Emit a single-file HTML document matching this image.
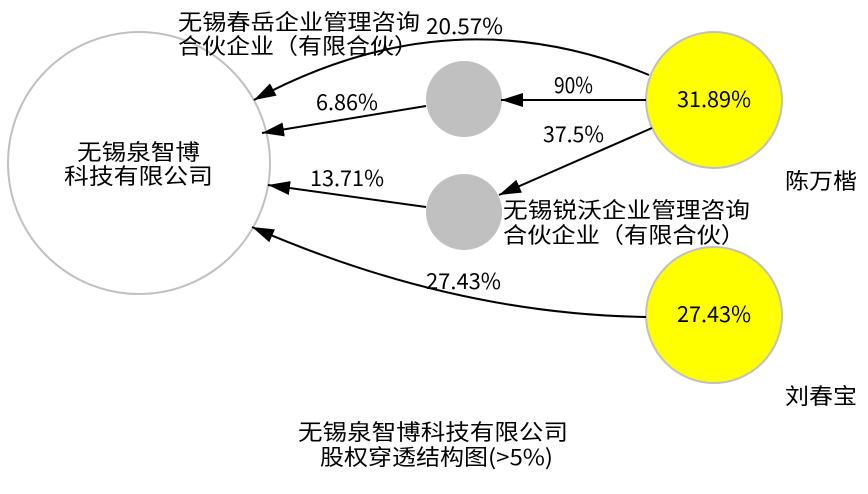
<!DOCTYPE html>
<html><head><meta charset="utf-8"><style>
html,body{margin:0;padding:0;background:#fff}
svg text{font-family:"WenQuanYi Zen Hei","Noto Sans CJK SC",sans-serif;font-size:22px;fill:#000}
</style></head><body>
<svg width="868" height="489" viewBox="0 0 868 489" xmlns="http://www.w3.org/2000/svg">
<defs><marker id="a" viewBox="0 0 10 10" refX="10" refY="5" markerWidth="22" markerHeight="14" preserveAspectRatio="none" markerUnits="userSpaceOnUse" orient="auto"><path d="M0,0L10,5L0,10z" fill="#000"/></marker></defs>
<circle cx="139" cy="163" r="131" fill="#fff" stroke="#c0c0c0" stroke-width="2"/>
<circle cx="464" cy="99" r="38" fill="#c0c0c0"/>
<circle cx="464" cy="212" r="38" fill="#c0c0c0"/>
<circle cx="714" cy="100" r="68" fill="#ffff00" stroke="#c0c0c0" stroke-width="2"/>
<circle cx="714" cy="315" r="68" fill="#ffff00" stroke="#c0c0c0" stroke-width="2"/>
<g stroke="#000" stroke-width="2" fill="none" marker-end="url(#a)">
<path d="M649,75 Q451,-7 254,100"/>
<path d="M426,106 L262,133"/>
<path d="M646,100 L501,100"/>
<path d="M652,128 L499,195"/>
<path d="M426,207 L268,185"/>
<path d="M646,317 Q451,314 252,227"/>
</g>
<g>
<text x="178" y="30" textLength="242" lengthAdjust="spacingAndGlyphs">无锡春岳企业管理咨询</text>
<text x="178" y="54" textLength="240" lengthAdjust="spacingAndGlyphs">合伙企业（有限合伙）</text>
<text x="426" y="34" textLength="77" lengthAdjust="spacingAndGlyphs">20.57%</text>
<text x="316" y="110" textLength="62" lengthAdjust="spacingAndGlyphs">6.86%</text>
<text x="554" y="93" textLength="39" lengthAdjust="spacingAndGlyphs">90%</text>
<text x="543" y="142" textLength="61" lengthAdjust="spacingAndGlyphs">37.5%</text>
<text x="310" y="186" textLength="74" lengthAdjust="spacingAndGlyphs">13.71%</text>
<text x="426" y="289" textLength="75" lengthAdjust="spacingAndGlyphs">27.43%</text>
<text x="77" y="160" textLength="123" lengthAdjust="spacingAndGlyphs">无锡泉智博</text>
<text x="64" y="184" textLength="149" lengthAdjust="spacingAndGlyphs">科技有限公司</text>
<text x="503" y="218" textLength="247" lengthAdjust="spacingAndGlyphs">无锡锐沃企业管理咨询</text>
<text x="503" y="243" textLength="242" lengthAdjust="spacingAndGlyphs">合伙企业（有限合伙）</text>
<text x="677" y="107" textLength="74" lengthAdjust="spacingAndGlyphs">31.89%</text>
<text x="677" y="322" textLength="74" lengthAdjust="spacingAndGlyphs">27.43%</text>
<text x="785" y="189" textLength="72" lengthAdjust="spacingAndGlyphs">陈万楷</text>
<text x="785" y="404" textLength="72" lengthAdjust="spacingAndGlyphs">刘春宝</text>
<text x="298" y="440" textLength="270" lengthAdjust="spacingAndGlyphs">无锡泉智博科技有限公司</text>
<text x="320" y="465" textLength="233" lengthAdjust="spacingAndGlyphs">股权穿透结构图(&gt;5%)</text>
</g>
</svg>
</body></html>
